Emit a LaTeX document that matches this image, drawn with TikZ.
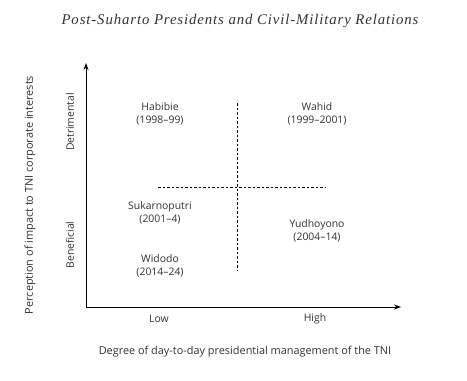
\documentclass[tikz,border=0pt]{standalone}
\usepackage{fontspec}
\setmainfont{Open Sans}
\newfontfamily\titlefont[LetterSpace=6]{Liberation Serif}
\usetikzlibrary{arrows.meta}
\definecolor{txt}{HTML}{333333}
\begin{document}
\begin{tikzpicture}[x=1pt,y=-1pt,
  lbl/.style={font=\fontsize{10.4}{13.5}\selectfont, text=txt, align=center, inner sep=0pt},
  axlbl/.style={lbl, font=\fontsize{10.9}{13.5}\selectfont},
  axisline/.style={line width=0.9pt, -{Stealth[length=7pt,width=5pt]}},
  divider/.style={dashed, line width=0.6pt, dash pattern=on 2.5pt off 2pt}]
\path[use as bounding box, fill=white] (0,0) rectangle (467,381);
\node[font=\titlefont\itshape\fontsize{14.8}{16}\selectfont, text=txt] (title) at (240,21) {Post-Suharto Presidents and Civil-Military Relations};
\coordinate (origin) at (86,307);
\coordinate (ytip) at (86,63);
\coordinate (xtip) at (401,307);
\draw[axisline] (origin) -- (ytip);
\draw[axisline] (origin) -- (xtip);
\coordinate (vtop) at (237,103);
\coordinate (vbot) at (237,270);
\coordinate (hl) at (158,187);
\coordinate (hr) at (325,187);
\draw[divider] (vtop) -- (vbot);
\draw[divider] (hl) -- (hr);
\node[lbl] (habibie) at (160,114) {Habibie\\(1998--99)};
\node[lbl] (wahid) at (317,114) {Wahid\\(1999--2001)};
\node[lbl] (sukarno) at (160,213) {Sukarnoputri\\(2001--4)};
\node[lbl] (yudho) at (317,231) {Yudhoyono\\(2004--14)};
\node[lbl] (widodo) at (160,266) {Widodo\\(2014--24)};
\node[lbl, rotate=90] (detr) at (70,122) {Detrimental};
\node[lbl, rotate=90] (bene) at (70,245) {Beneficial};
\node[axlbl, rotate=90] (ylab) at (30,195) {Perception of impact to TNI corporate interests};
\node[lbl] (low) at (159,319) {Low};
\node[lbl] (high) at (315,319) {High};
\node[axlbl] (xlab) at (245,352) {Degree of day-to-day presidential management of the TNI};
\end{tikzpicture}
\end{document}
